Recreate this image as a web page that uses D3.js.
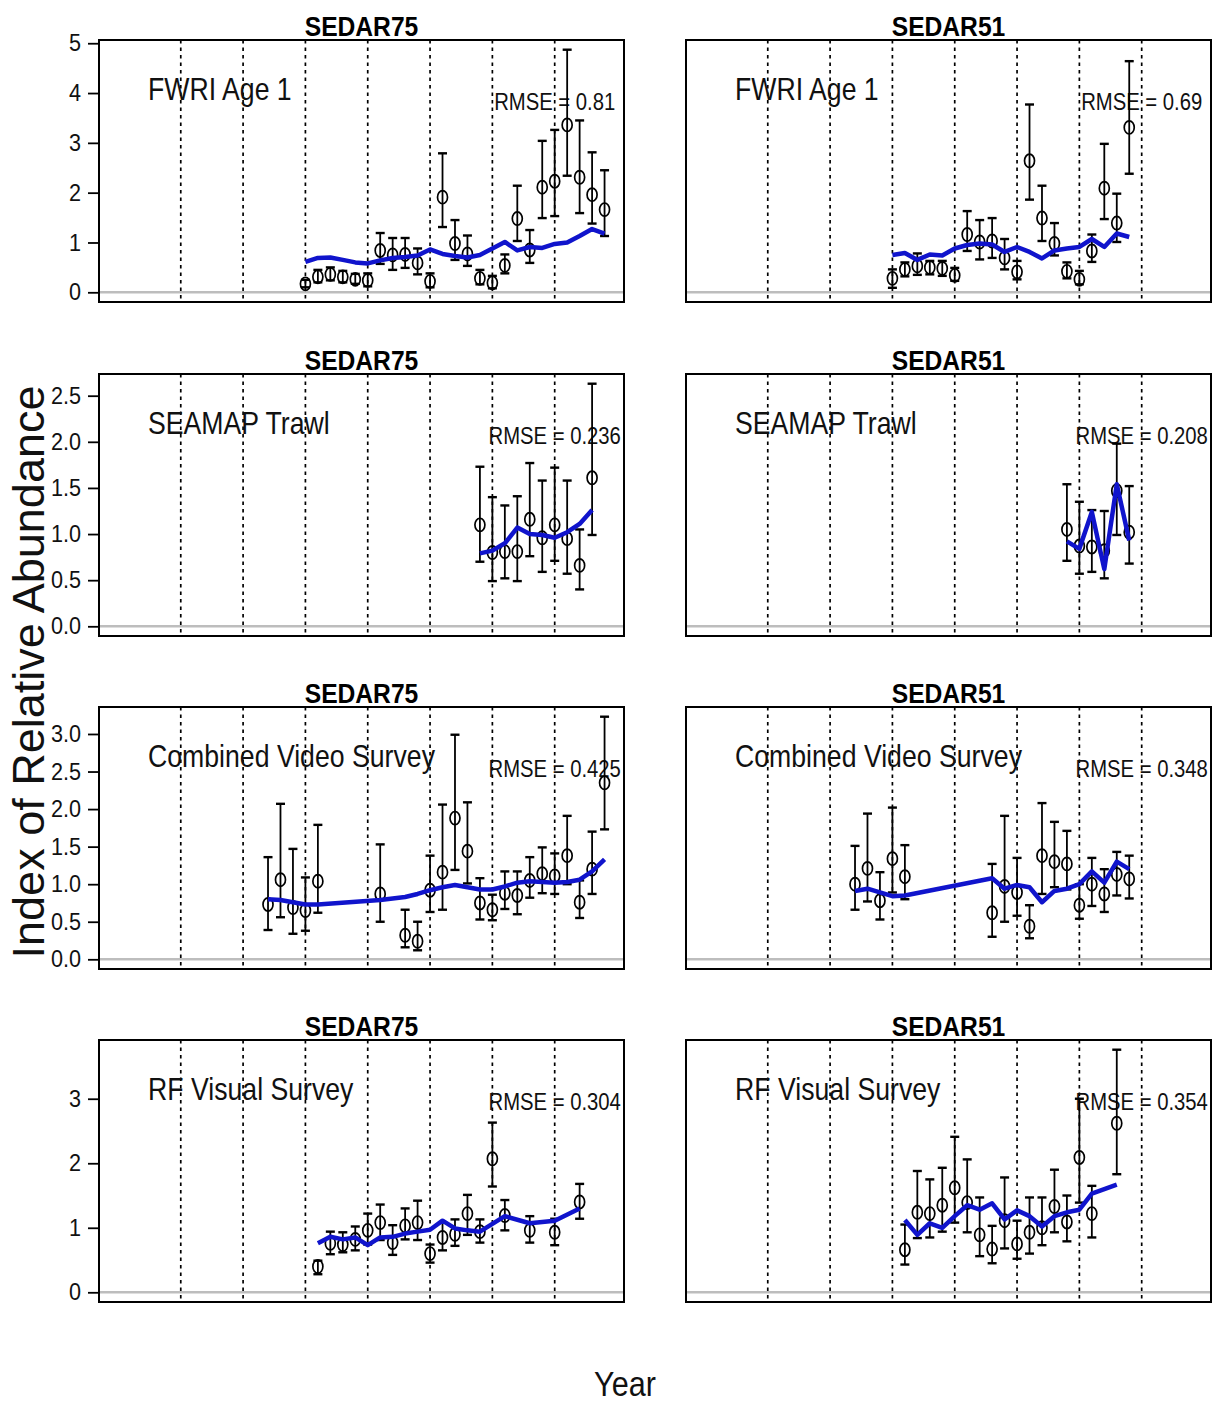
<!DOCTYPE html>
<html><head><meta charset="utf-8">
<script src="https://cdn.jsdelivr.net/npm/d3@7"></script>
<style>body{margin:0;background:#fff}svg{display:block}</style>
</head><body>
<script>
// ---------------- DATA ----------------
const columnTitles = ["SEDAR75", "SEDAR51"];
const indexNames = ["FWRI Age 1", "SEAMAP Trawl", "Combined Video Survey", "RF Visual Survey"];
const rmse75 = ["0.81", "0.236", "0.425", "0.304"];
const rmse51 = ["0.69", "0.208", "0.348", "0.354"];
const refYears = [1985, 1990, 1995, 2000, 2005, 2010, 2015];
const yearRange = [1980, 2019];
const yTicksRow1 = [0, 1, 2, 3, 4, 5];
const yTicksRow2 = [0, 0.5, 1.0, 1.5, 2.0, 2.5];
const yTicksRow3 = [0, 0.5, 1.0, 1.5, 2.0, 2.5, 3.0];
const yTicksRow4 = [0, 1, 2, 3];

// FWRI Age 1
const fwri75Years = [1995,1996,1997,1998,1999,2000,2001,2002,2003,2004,2005,2006,2007,2008,2009,2010,2011,2012,2013,2014,2015,2016,2017,2018,2019];
const fwri75Obs  = [0.17,0.31,0.36,0.31,0.26,0.24,0.84,0.75,0.76,0.59,0.22,1.91,0.98,0.77,0.28,0.19,0.54,1.48,0.85,2.11,2.23,3.36,2.31,1.96,1.66];
const fwri75Lo   = [0.10,0.20,0.24,0.20,0.17,0.12,0.57,0.45,0.49,0.36,0.10,1.31,0.65,0.53,0.16,0.08,0.38,1.03,0.59,1.49,1.53,2.34,1.59,1.38,1.13];
const fwri75Hi   = [0.25,0.45,0.50,0.43,0.37,0.38,1.19,1.09,1.09,0.88,0.38,2.79,1.45,1.14,0.45,0.33,0.76,2.14,1.25,3.04,3.26,4.87,3.45,2.81,2.45];
const fwri75Pred = [0.61,0.69,0.70,0.65,0.60,0.58,0.64,0.69,0.71,0.74,0.86,0.77,0.73,0.70,0.75,0.88,1.01,0.84,0.91,0.89,0.97,1.00,1.13,1.27,1.18];

const fwri51Years = [1995,1996,1997,1998,1999,2000,2001,2002,2003,2004,2005,2006,2007,2008,2009,2010,2011,2012,2013,2014];
const fwri51Obs  = [0.28,0.46,0.53,0.50,0.48,0.34,1.16,1.01,1.03,0.69,0.41,2.64,1.49,0.98,0.42,0.26,0.83,2.09,1.39,3.31];
const fwri51Lo   = [0.09,0.32,0.35,0.36,0.33,0.23,0.83,0.66,0.69,0.46,0.26,1.86,1.03,0.74,0.28,0.16,0.61,1.47,1.01,2.38];
const fwri51Hi   = [0.46,0.60,0.78,0.63,0.63,0.49,1.63,1.45,1.49,1.07,0.63,3.77,2.14,1.39,0.60,0.43,1.16,2.98,1.98,4.64];
const fwri51Pred = [0.75,0.79,0.65,0.76,0.74,0.88,0.95,0.98,0.96,0.81,0.91,0.81,0.68,0.84,0.88,0.91,1.07,0.91,1.18,1.11];

// SEAMAP Trawl
const seamap75Years = [2009,2010,2011,2012,2013,2014,2015,2016,2017,2018];
const seamap75Obs  = [1.10,0.80,0.81,0.81,1.16,0.96,1.10,0.95,0.66,1.61];
const seamap75Lo   = [0.70,0.49,0.52,0.49,0.76,0.59,0.71,0.57,0.40,0.99];
const seamap75Hi   = [1.73,1.40,1.31,1.41,1.77,1.58,1.72,1.58,1.05,2.63];
const seamap75Pred = [0.79,0.82,0.90,1.07,1.00,0.99,0.96,1.02,1.11,1.26];

const seamap51Years = [2009,2010,2011,2012,2013,2014];
const seamap51Obs  = [1.05,0.87,0.86,0.82,1.47,1.02];
const seamap51Lo   = [0.71,0.57,0.59,0.52,0.99,0.68];
const seamap51Hi   = [1.54,1.35,1.26,1.25,1.98,1.52];
const seamap51Pred = [0.92,0.84,1.24,0.62,1.54,0.93];

// Combined Video Survey
const video75Years = [1992,1993,1994,1995,1996,2001,2003,2004,2005,2006,2007,2008,2009,2010,2011,2012,2013,2014,2015,2016,2017,2018,2019];
const video75Obs  = [0.73,1.06,0.69,0.65,1.04,0.87,0.32,0.24,0.92,1.16,1.88,1.44,0.75,0.66,0.88,0.85,1.05,1.14,1.11,1.38,0.76,1.20,2.35];
const video75Lo   = [0.39,0.56,0.34,0.38,0.62,0.50,0.16,0.12,0.63,0.66,1.19,1.01,0.53,0.52,0.67,0.60,0.82,0.88,0.87,1.00,0.55,0.87,1.73];
const video75Hi   = [1.36,2.07,1.47,1.09,1.79,1.53,0.66,0.50,1.38,2.06,2.99,2.09,1.08,0.86,1.17,1.17,1.36,1.49,1.41,1.91,1.05,1.70,3.23];
const video75Pred = [0.80,0.79,0.76,0.73,0.73,0.79,0.83,0.87,0.92,0.96,0.99,0.96,0.93,0.93,0.97,1.02,1.04,1.03,1.02,1.03,1.06,1.17,1.33];

const video51Years = [1992,1993,1994,1995,1996,2003,2004,2005,2006,2007,2008,2009,2010,2011,2012,2013,2014];
const video51Obs  = [1.00,1.21,0.78,1.34,1.10,0.62,0.97,0.89,0.44,1.38,1.30,1.27,0.72,1.00,0.87,1.13,1.07];
const video51Lo   = [0.66,0.77,0.53,0.89,0.80,0.30,0.50,0.58,0.28,0.87,0.96,0.93,0.54,0.71,0.63,0.85,0.81];
const video51Hi   = [1.51,1.94,1.16,2.02,1.52,1.27,1.91,1.35,0.72,2.08,1.83,1.71,1.00,1.35,1.20,1.43,1.38];
const video51Pred = [0.91,0.94,0.89,0.84,0.85,1.08,0.94,0.99,0.96,0.76,0.91,0.94,1.00,1.17,1.02,1.30,1.20];

// RF Visual Survey
const rf75Years = [1996,1997,1998,1999,2000,2001,2002,2003,2004,2005,2006,2007,2008,2009,2010,2011,2013,2015,2017];
const rf75Obs  = [0.40,0.76,0.74,0.82,0.96,1.08,0.77,1.03,1.08,0.60,0.85,0.90,1.22,0.94,2.07,1.19,0.96,0.93,1.40];
const rf75Lo   = [0.28,0.59,0.62,0.65,0.74,0.81,0.58,0.82,0.81,0.46,0.65,0.72,0.89,0.77,1.64,0.96,0.77,0.73,1.14];
const rf75Hi   = [0.49,0.94,0.93,1.02,1.22,1.36,1.04,1.30,1.42,0.74,1.08,1.13,1.51,1.13,2.63,1.43,1.18,1.14,1.68];
const rf75Pred = [0.76,0.86,0.82,0.85,0.73,0.85,0.86,0.91,0.94,0.97,1.11,0.99,0.96,0.94,1.06,1.18,1.07,1.11,1.30];

const rf51Years = [1996,1997,1998,1999,2000,2001,2002,2003,2004,2005,2006,2007,2008,2009,2010,2011,2013];
const rf51Obs  = [0.66,1.24,1.22,1.35,1.62,1.39,0.89,0.67,1.11,0.75,0.93,1.00,1.33,1.09,2.09,1.22,2.62];
const rf51Lo   = [0.43,0.84,0.85,0.94,1.08,0.93,0.56,0.45,0.68,0.52,0.60,0.73,0.93,0.79,1.39,0.85,1.83];
const rf51Hi   = [1.05,1.88,1.75,1.93,2.41,2.06,1.47,1.03,1.78,1.11,1.47,1.47,1.90,1.50,3.00,1.65,3.76];
const rf51Pred = [1.12,0.89,1.07,1.00,1.18,1.35,1.28,1.38,1.13,1.27,1.18,1.02,1.18,1.24,1.28,1.53,1.67];

// ---------------- LAYOUT ----------------
const W = 1215, H = 1406;
const colX0 = [99, 686];
const boxW = 525;
const rowY0 = [40, 374, 707, 1040];
const boxH = 262;
const FONT = "'Liberation Sans', Arial, Helvetica, sans-serif";
const BLUE = "#1014cc";

function series(years, obs, lo, hi, pred) {
  return years.map((yr, i) => ({year: yr, obs: obs[i], lo: lo[i], hi: hi[i], pred: pred[i]}));
}

const rows = [
  {ticks: yTicksRow1, fmt: d3.format("d"), panels: [
    series(fwri75Years, fwri75Obs, fwri75Lo, fwri75Hi, fwri75Pred),
    series(fwri51Years, fwri51Obs, fwri51Lo, fwri51Hi, fwri51Pred)]},
  {ticks: yTicksRow2, fmt: d3.format(".1f"), panels: [
    series(seamap75Years, seamap75Obs, seamap75Lo, seamap75Hi, seamap75Pred),
    series(seamap51Years, seamap51Obs, seamap51Lo, seamap51Hi, seamap51Pred)]},
  {ticks: yTicksRow3, fmt: d3.format(".1f"), panels: [
    series(video75Years, video75Obs, video75Lo, video75Hi, video75Pred),
    series(video51Years, video51Obs, video51Lo, video51Hi, video51Pred)]},
  {ticks: yTicksRow4, fmt: d3.format("d"), panels: [
    series(rf75Years, rf75Obs, rf75Lo, rf75Hi, rf75Pred),
    series(rf51Years, rf51Obs, rf51Lo, rf51Hi, rf51Pred)]}
];
const rmseByCol = [rmse75, rmse51];

const svg = d3.select("body").append("svg").attr("width", W).attr("height", H)
  .style("font-family", FONT);
svg.append("rect").attr("width", W).attr("height", H).attr("fill", "#fff");

// horizontally condensed text drawn via a scale transform about its anchor point
function condensed(parent, x, y, str, size, factor, anchor) {
  return parent.append("text")
    .attr("transform", `translate(${x},${y}) scale(${factor},1)`)
    .attr("text-anchor", anchor).attr("font-size", size).attr("fill", "#111")
    .text(str);
}

const xPad = (yearRange[1] - yearRange[0]) * 0.04;

rows.forEach((row, ri) => {
  const yMax = d3.max(row.panels.flat(), d => d.hi);
  const y = d3.scaleLinear().domain([-0.04 * yMax, 1.04 * yMax]).range([boxH, 0]);

  row.panels.forEach((data, ci) => {
    const x = d3.scaleLinear().domain([yearRange[0] - xPad, yearRange[1] + xPad]).range([0, boxW]);
    const g = svg.append("g").attr("transform", `translate(${colX0[ci]},${rowY0[ri]})`);

    // zero line
    g.append("line").attr("x1", 0).attr("x2", boxW).attr("y1", y(0)).attr("y2", y(0))
      .attr("stroke", "#bdbdbd").attr("stroke-width", 2.5);

    // dotted reference lines
    g.selectAll("line.ref").data(refYears).join("line").attr("class", "ref")
      .attr("x1", d => x(d)).attr("x2", d => x(d)).attr("y1", 0).attr("y2", boxH)
      .attr("stroke", "#000").attr("stroke-width", 1.7).attr("stroke-dasharray", "3.5,4");

    // labels
    condensed(g, 49, 60, indexNames[ri], 31, 0.86, "start");
    condensed(g, x(2015), 70, "RMSE = " + rmseByCol[ci][ri], 24, 0.845, "middle");

    // error bars
    const cap = 4.5;
    const eb = g.append("g").attr("stroke", "#000").attr("stroke-width", 1.8);
    eb.selectAll("line.v").data(data).join("line").attr("class", "v")
      .attr("x1", d => x(d.year)).attr("x2", d => x(d.year))
      .attr("y1", d => y(d.lo)).attr("y2", d => y(d.hi));
    eb.selectAll("line.t").data(data).join("line").attr("class", "t")
      .attr("x1", d => x(d.year) - cap).attr("x2", d => x(d.year) + cap)
      .attr("y1", d => y(d.hi)).attr("y2", d => y(d.hi)).attr("stroke-width", 2.4);
    eb.selectAll("line.b").data(data).join("line").attr("class", "b")
      .attr("x1", d => x(d.year) - cap).attr("x2", d => x(d.year) + cap)
      .attr("y1", d => y(d.lo)).attr("y2", d => y(d.lo)).attr("stroke-width", 2.4);

    // observed points
    g.selectAll("ellipse").data(data).join("ellipse")
      .attr("cx", d => x(d.year)).attr("cy", d => y(d.obs))
      .attr("rx", 5).attr("ry", 6.6).attr("fill", "none")
      .attr("stroke", "#000").attr("stroke-width", 1.7);

    // predicted line
    g.append("path").datum(data)
      .attr("d", d3.line().x(d => x(d.year)).y(d => y(d.pred)))
      .attr("fill", "none").attr("stroke", BLUE).attr("stroke-width", 4.5)
      .attr("stroke-linejoin", "round");

    // frame
    g.append("rect").attr("width", boxW).attr("height", boxH).attr("fill", "none")
      .attr("stroke", "#000").attr("stroke-width", 2);

    // title
    condensed(g, boxW / 2, -4, columnTitles[ci], 28, 0.88, "middle")
      .attr("font-weight", "bold").attr("fill", "#000");

    // y axis (left column only)
    if (ci === 0) {
      const ax = g.append("g").call(d3.axisLeft(y).tickValues(row.ticks).tickFormat(row.fmt)
        .tickSize(11).tickSizeOuter(0).tickPadding(7));
      ax.select(".domain").remove();
      ax.selectAll(".tick line").attr("stroke", "#000").attr("stroke-width", 1.8);
      ax.selectAll(".tick text").attr("font-size", 24).attr("font-family", FONT).attr("fill", "#111")
        .attr("x", -18 / 0.9).attr("transform", "scale(0.9,1)");
    }
  });
});

// axis titles
svg.append("text").attr("transform", "translate(44,672) rotate(-90)")
  .attr("text-anchor", "middle").attr("font-size", 45).attr("fill", "#111")
  .text("Index of Relative Abundance");
condensed(svg, 625, 1396, "Year", 36, 0.85, "middle");
</script>
</body></html>
